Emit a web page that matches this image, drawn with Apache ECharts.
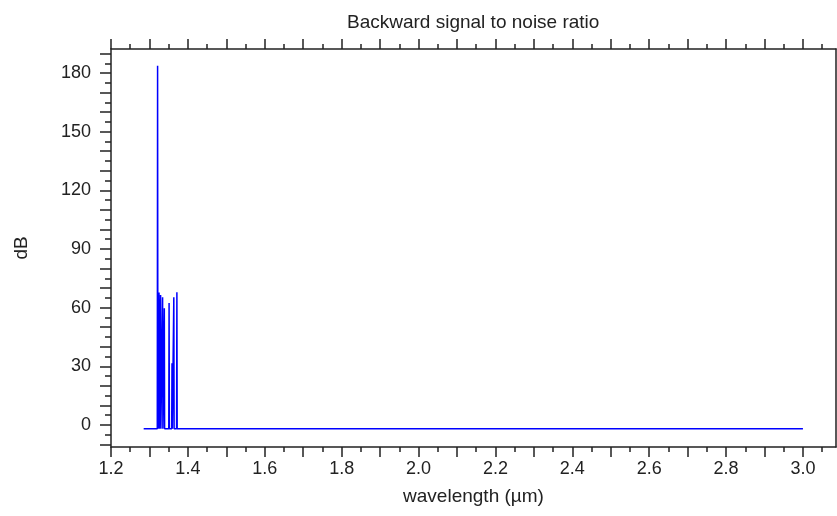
<!DOCTYPE html>
<html>
<head>
<meta charset="utf-8">
<title>Backward signal to noise ratio</title>
<script src="https://cdn.jsdelivr.net/npm/echarts@6/dist/echarts.min.js"></script>
<style>
	html, body { margin: 0; padding: 0; background: #fff; }
	#chart { width: 837px; height: 516px; }
</style>
</head>
<body>
<div id="chart"></div>
<script>
	// 波长 (µm) 与对应的后向信噪比 (dB)
	const wavelength = [
		1.285, 1.3204, 1.3212, 1.322, 1.3241, 1.3249, 1.3257, 1.3282, 1.329, 1.3298,
		1.3334, 1.3342, 1.335, 1.3379, 1.3387, 1.3395, 1.3503, 1.3511, 1.3519, 1.3579,
		1.3587, 1.3595, 1.3626, 1.3634, 1.3642, 1.3706, 1.3714, 1.3722, 3.0
	];
	const snrDb = [
		-2, -2, 183.7, -2, -2, 67.7, -2, -2, 66.5, -2,
		-2, 65.3, -2, -2, 59.7, -2, -2, 62.3, -2, -2,
		31.5, -2, -2, 65.3, -2, -2, 67.9, -2, -2
	];

	// 刻度与标签
	const xTicks = [1.2, 1.3, 1.4, 1.5, 1.6, 1.7, 1.8, 1.9, 2.0, 2.1, 2.2, 2.3, 2.4, 2.5, 2.6, 2.7, 2.8, 2.9, 3.0];
	const xLabels = [1.2, 1.4, 1.6, 1.8, 2.0, 2.2, 2.4, 2.6, 2.8, 3.0];
	const yTicks = [-10, 0, 10, 20, 30, 40, 50, 60, 70, 80, 90, 100, 110, 120, 130, 140, 150, 160, 170, 180, 190];
	const yLabels = [0, 30, 60, 90, 120, 150, 180];

	const font = "'Liberation Sans', Arial, sans-serif";
	const axisColor = "#222";

	const chart = echarts.init(document.getElementById("chart"));

	const option = {
		animation: false,
		title: {
			text: "Backward signal to noise ratio",
			left: 342,
			top: 8,
			textStyle: { fontFamily: font, fontSize: 19, fontWeight: "normal", color: "#222" }
		},
		grid: { left: 111, right: 1, top: 49, bottom: 69, containLabel: false },
		xAxis: [
			{
				// 下方主轴
				type: "value",
				position: "bottom",
				min: 1.2,
				max: 3.086,
				interval: 0.1,
				name: "wavelength (µm)",
				nameLocation: "middle",
				nameGap: 40,
				nameTextStyle: { fontFamily: font, fontSize: 19, color: "#222" },
				splitLine: { show: false },
				axisLine: { show: true, onZero: false, lineStyle: { color: axisColor, width: 1.5 } },
				axisTick: { show: true, inside: false, length: 10, customValues: xTicks, lineStyle: { color: axisColor, width: 1.5 } },
				minorTick: { show: true, splitNumber: 2, length: 5, lineStyle: { color: axisColor, width: 1.5 } },
				axisLabel: {
					margin: 13,
					customValues: xLabels,
					fontFamily: font,
					fontSize: 18,
					color: "#222",
					formatter: (v) => v.toFixed(1)
				}
			},
			{
				// 上方边框，只有刻度
				type: "value",
				position: "top",
				min: 1.2,
				max: 3.086,
				interval: 0.1,
				splitLine: { show: false },
				axisLine: { show: true, onZero: false, lineStyle: { color: axisColor, width: 1.5 } },
				axisTick: { show: true, inside: false, length: 10, customValues: xTicks, lineStyle: { color: axisColor, width: 1.5 } },
				minorTick: { show: true, splitNumber: 2, length: 5, lineStyle: { color: axisColor, width: 1.5 } },
				axisLabel: { show: false }
			}
		],
		yAxis: [
			{
				type: "value",
				position: "left",
				min: -11.3,
				max: 192.3,
				minInterval: 10,
				maxInterval: 10,
				name: "dB",
				nameLocation: "middle",
				nameGap: 80,
				nameRotate: 90,
				nameTextStyle: { fontFamily: font, fontSize: 19, color: "#222" },
				splitLine: { show: false },
				axisLine: { show: true, onZero: false, lineStyle: { color: axisColor, width: 1.5 } },
				axisTick: { show: true, inside: false, length: 11, customValues: yTicks, lineStyle: { color: axisColor, width: 1.5 } },
				minorTick: { show: true, splitNumber: 2, length: 6, lineStyle: { color: axisColor, width: 1.5 } },
				axisLabel: {
					margin: 20,
					customValues: yLabels,
					fontFamily: font,
					fontSize: 18,
					color: "#222"
				}
			},
			{
				// 右侧边框
				type: "value",
				position: "right",
				min: -11.3,
				max: 192.3,
				splitLine: { show: false },
				axisLine: { show: true, onZero: false, lineStyle: { color: axisColor, width: 1.5 } },
				axisTick: { show: false },
				axisLabel: { show: false }
			}
		],
		series: [
			{
				name: "Backward SNR",
				type: "line",
				xAxisIndex: 0,
				yAxisIndex: 0,
				symbol: "none",
				lineStyle: { color: "#0000ff", width: 1.5 },
				data: wavelength.map((w, i) => [w, snrDb[i]])
			}
		]
	};

	chart.setOption(option);
</script>
</body>
</html>
